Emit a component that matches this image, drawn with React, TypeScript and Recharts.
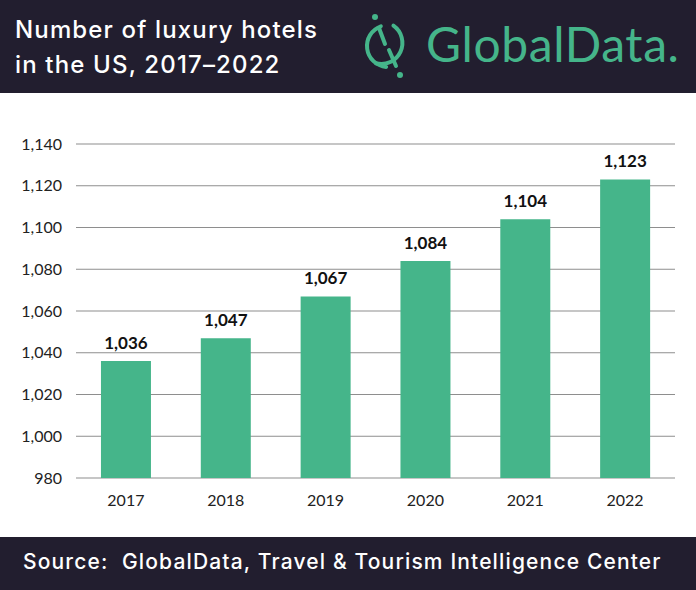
import { Bar, BarChart, CartesianGrid, LabelList, XAxis, YAxis } from 'recharts'

const years = ['2017', '2018', '2019', '2020', '2021', '2022']
const hotels = [1036, 1047, 1067, 1084, 1104, 1123]
const yTicks = [980, 1000, 1020, 1040, 1060, 1080, 1100, 1120, 1140]

const data = years.map((year, i) => ({ year, hotels: hotels[i] }))

const NAVY = '#221e2f'
const GREEN = '#45b58a'
const fmt = (v: number) => v.toLocaleString('en-US')

function Logo() {
  // ring icon + wordmark
  const cx = 388, cy = 46, r = 21
  const pt = (deg: number) => {
    const a = (deg * Math.PI) / 180
    return `${cx + r * Math.cos(a)} ${cy + r * Math.sin(a)}`
  }
  return (
    <svg width={696} height={93} style={{ position: 'absolute', left: 0, top: 0 }}>
      <path d={`M ${pt(-110)} A ${r} ${r} 0 0 0 ${pt(95)}`} fill="none" stroke={GREEN} strokeWidth={4} strokeLinecap="round" />
      <path d={`M ${pt(-75)} A ${r} ${r} 0 0 1 ${pt(125)}`} fill="none" stroke={GREEN} strokeWidth={4} strokeLinecap="round" />
      <line x1={379} y1={28} x2={385} y2={44} stroke={GREEN} strokeWidth={4} strokeLinecap="round" />
      <line x1={389} y1={50} x2={396} y2={66} stroke={GREEN} strokeWidth={4} strokeLinecap="round" />
      <circle cx={375} cy={17} r={3} fill={GREEN} />
      <circle cx={400} cy={75} r={3} fill={GREEN} />
      <text x={426} y={62} fill={GREEN} fontFamily="Lato, sans-serif" fontSize={48} fontWeight={400} letterSpacing={0.6}>
        GlobalData.
      </text>
    </svg>
  )
}

export default function App() {
  return (
    <div style={{ position: 'absolute', left: 0, top: 0, width: 696, height: 590, background: '#fff', overflow: 'hidden' }}>
      <div style={{ position: 'absolute', left: 0, top: 0, width: 696, height: 93, background: NAVY }}>
        <div style={{ position: 'absolute', left: 15, top: 12, color: '#fff', fontFamily: 'Inter, sans-serif', fontWeight: 500, fontSize: 24, letterSpacing: 1.15, lineHeight: '35px' }}>
          Number of luxury hotels
          <br />
          in the US, 2017–2022
        </div>
        <Logo />
      </div>

      <div style={{ position: 'absolute', left: 0, top: 93 }}>
        <BarChart width={696} height={444} data={data} margin={{ top: 51, right: 21, left: 0, bottom: 0 }} barCategoryGap="25%">
          <CartesianGrid vertical={false} stroke="#8e8e8e" strokeWidth={1.2} />
          <XAxis
            dataKey="year"
            axisLine={false}
            tickLine={false}
            tickSize={0}
            tickMargin={17}
            height={59}
            tick={{ fill: '#222', fontSize: 16, fontFamily: 'Lato, sans-serif' }}
          />
          <YAxis
            domain={[980, 1140]}
            ticks={yTicks}
            interval={0}
            axisLine={false}
            tickLine={false}
            tickSize={0}
            tickMargin={14}
            width={76}
            tickFormatter={fmt}
            tick={{ fill: '#222', fontSize: 16, fontFamily: 'Lato, sans-serif' }}
          />
          <Bar dataKey="hotels" fill={GREEN} isAnimationActive={false}>
            <LabelList dataKey="hotels" position="top" offset={12} formatter={(v: any) => fmt(Number(v))} fill="#111" fontSize={17} fontWeight={700} fontFamily="Lato, sans-serif" />
          </Bar>
        </BarChart>
      </div>

      <div style={{ position: 'absolute', left: 0, top: 537, width: 696, height: 53, background: NAVY }}>
        <div style={{ position: 'absolute', left: 23, top: 12, color: '#fff', fontFamily: 'Inter, sans-serif', fontWeight: 500, fontSize: 21, letterSpacing: 1.15, whiteSpace: 'pre' }}>
          {'Source:  GlobalData, Travel & Tourism Intelligence Center'}
        </div>
      </div>
    </div>
  )
}
